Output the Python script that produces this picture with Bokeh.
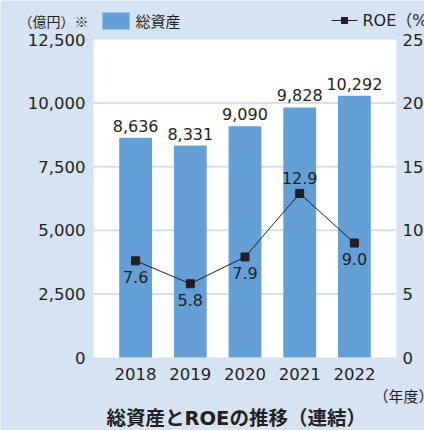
from bokeh.plotting import figure
from bokeh.models import Range1d, Label, BoxAnnotation, ColumnDataSource
from bokeh.embed import file_html
from bokeh.resources import INLINE
from bokeh.core.properties import value

# ---------------- data ----------------
years = ["2018", "2019", "2020", "2021", "2022"]
total_assets = [8636, 8331, 9090, 9828, 10292]      # 億円
roe = [7.6, 5.8, 7.9, 12.9, 9.0]                      # %
left_ticks = [0, 2500, 5000, 7500, 10000, 12500]
right_ticks = [0, 5, 10, 15, 20, 25]
grid_ticks = [2500, 5000, 7500, 10000]

# ---------------- style ----------------
BG = "#d6e3f3"
BAR = "#64a0d6"
GRID = "#d4e1f2"
INK = "#231f20"
NUM_FONT = "DejaVu Sans"
JP_FONT = "Noto Sans CJK JP"
MIX_FONT = "DejaVu Sans, Noto Sans CJK JP"

W, H = 424, 430
FL, FR, FT, FB = 93, 396, 39, 357   # white plot area edges in pixels
XMIN, XMAX = -0.77, 4.77
YMAX = left_ticks[-1]
RMAX = right_ticks[-1]


def sx(px):
    return XMIN + (px - FL) * (XMAX - XMIN) / (FR - FL)


def sy(py):
    return (FB - py) * YMAX / (FB - FT)


p = figure(width=W, height=H, output_backend="svg", toolbar_location=None,
           title=None, x_axis_location=None, y_axis_location=None,
           x_range=Range1d(sx(0), sx(W)), y_range=Range1d(sy(H), sy(0)),
           min_border=0)
p.border_fill_color = BG
p.background_fill_color = BG
p.outline_line_color = None
p.grid.visible = False
p.extra_y_ranges = {"roe": Range1d(sy(H) * RMAX / YMAX, sy(0) * RMAX / YMAX)}

idx = list(range(len(years)))

# white plot area + grid
p.quad(left=[XMIN], right=[XMAX], bottom=[left_ticks[0]], top=[left_ticks[-1]],
       fill_color="white", line_color=None)
p.segment(x0=[XMIN] * len(grid_ticks), x1=[XMAX] * len(grid_ticks),
          y0=grid_ticks, y1=grid_ticks, line_color=GRID, line_width=2)

# tick labels
p.text(x=[sx(85)] * len(left_ticks), y=left_ticks, text=[f"{t:,}" for t in left_ticks],
       text_align="right", text_baseline="middle",
       text_font=value(NUM_FONT), text_font_size="16.5px", text_color=INK)
p.text(x=[sx(402)] * len(right_ticks), y=right_ticks, y_range_name="roe",
       text=[str(t) for t in right_ticks],
       text_align="left", text_baseline="middle",
       text_font=value(NUM_FONT), text_font_size="16.5px", text_color=INK)
p.text(x=idx, y=[sy(373)] * len(idx), text=years,
       text_align="center", text_baseline="middle",
       text_font=value(NUM_FONT), text_font_size="16.5px", text_color=INK)

# bars
src = ColumnDataSource(dict(x=idx, top=total_assets,
                            lab=[f"{v:,}" for v in total_assets],
                            roe=roe, rlab=[f"{v:.1f}" for v in roe],
                            roff=[-15 if v == max(roe) else 16 for v in roe]))
p.vbar(x="x", top="top", width=0.6, source=src, fill_color=BAR, line_color=None)
p.text(x="x", y="top", text="lab", source=src, y_offset=-12,
       text_align="center", text_baseline="middle",
       text_font=value(NUM_FONT), text_font_size="16px", text_color=INK)

# ROE line
p.line(x="x", y="roe", source=src, y_range_name="roe", line_color=INK, line_width=1)
p.scatter(x="x", y="roe", source=src, y_range_name="roe", marker="square",
          size=8, fill_color=INK, line_color=INK)
p.text(x="x", y="roe", text="rlab", source=src, y_range_name="roe", y_offset="roff",
       text_align="center", text_baseline="middle",
       text_font=value(NUM_FONT), text_font_size="16px", text_color=INK)

# legend row
p.add_layout(Label(x=sx(18), y=sy(20), text="（億円）※", text_baseline="middle",
                   text_font=JP_FONT, text_font_size="14px", text_color=INK))
p.add_layout(BoxAnnotation(left=sx(102), right=sx(129), top=sy(12), bottom=sy(29),
                           fill_color=BAR, fill_alpha=1, line_color=None))
p.add_layout(Label(x=sx(135), y=sy(20), text="総資産", text_baseline="middle",
                   text_font=JP_FONT, text_font_size="15px", text_color=INK))
p.add_layout(BoxAnnotation(left=sx(331), right=sx(357), top=sy(19.5), bottom=sy(20.5),
                           fill_color=INK, fill_alpha=1, line_color=None))
p.add_layout(BoxAnnotation(left=sx(340.5), right=sx(347.5), top=sy(16.5), bottom=sy(23.5),
                           fill_color=INK, fill_alpha=1, line_color=None))
p.add_layout(Label(x=sx(362), y=sy(20), text="ROE（%）", text_baseline="middle",
                   text_font=MIX_FONT, text_font_size="16px", text_color=INK))

# unit of x and title
p.add_layout(Label(x=sx(373), y=sy(395), text="（年度）", text_baseline="middle",
                   text_font=JP_FONT, text_font_size="15px", text_color=INK))
p.add_layout(Label(x=sx(106), y=sy(418), text="総資産とROEの推移（連結）",
                   text_align="left", text_baseline="middle",
                   text_font=MIX_FONT, text_font_size="19.5px", text_font_style="bold",
                   text_color=INK))

open("out.html", "w").write(file_html(p, INLINE))
